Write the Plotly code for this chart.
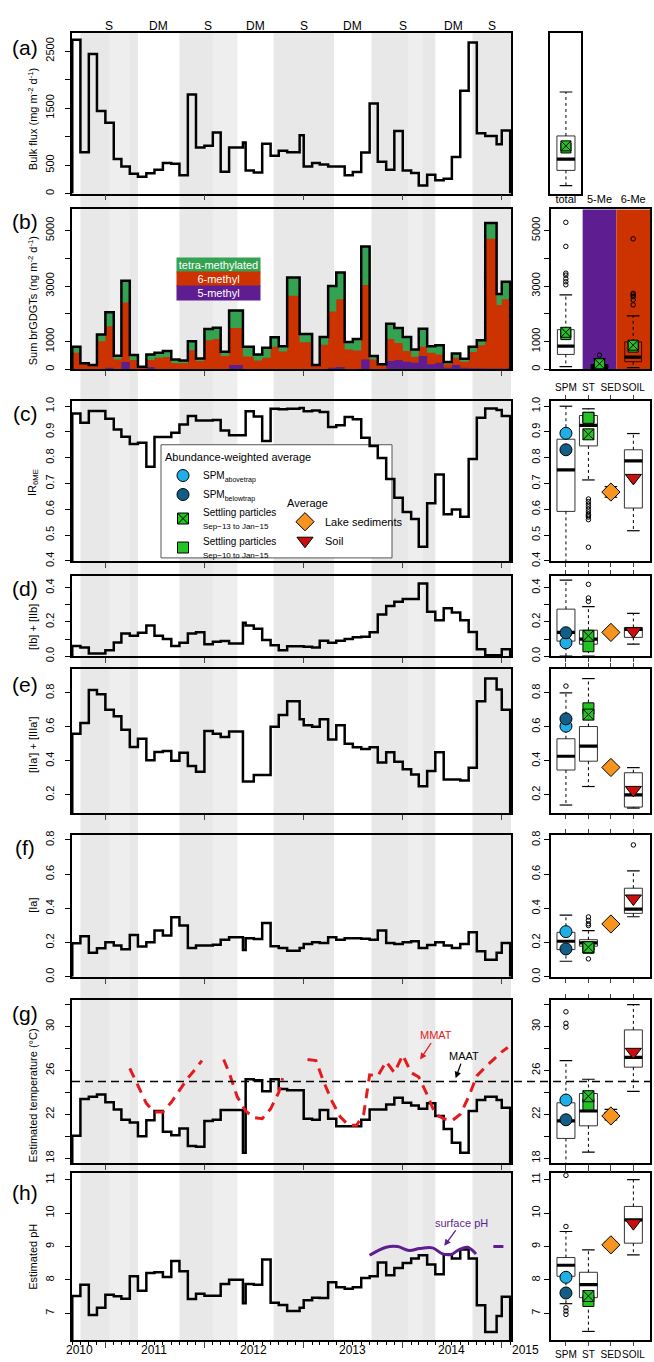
import datetime as _dt
import plotly.graph_objects as go

W, H = 654, 1362
FONT = "Liberation Sans, Arial, Helvetica, sans-serif"

# ---------------- DATA ----------------
# sediment-trap sampling interval boundaries (53 intervals)
sample_bounds = [
    "2010-09-01", "2010-10-01", "2010-11-01", "2010-12-01",
    "2011-01-01", "2011-02-01", "2011-03-01", "2011-04-01", "2011-05-01", "2011-06-01",
    "2011-07-01", "2011-08-01", "2011-09-01", "2011-10-01", "2011-11-01", "2011-12-01",
    "2012-01-01", "2012-02-01", "2012-03-01", "2012-04-01", "2012-05-22", "2012-06-01",
    "2012-07-01", "2012-08-01", "2012-09-01", "2012-10-01", "2012-11-01", "2012-12-17",
    "2013-01-01", "2013-02-01", "2013-03-01", "2013-04-01", "2013-05-01", "2013-06-01",
    "2013-07-01", "2013-08-01", "2013-09-01", "2013-10-01", "2013-11-01", "2013-12-01",
    "2014-01-01", "2014-02-01", "2014-03-01", "2014-04-01", "2014-05-01", "2014-06-01",
    "2014-07-01", "2014-08-01", "2014-09-01", "2014-10-01", "2014-11-01", "2014-12-13",
    "2015-01-01", "2015-02-01"]

bulk_flux = [2700, 727, 2448, 1448, 1244, 605, 477, 349, 297, 355,
             419, 535, 525, 320, 1738, 808, 837, 1070, 384, 808,
             895, 407, 372, 872, 663, 750, 727, 1023, 477, 535,
             512, 477, 477, 320, 378, 721, 1581, 558, 419, 1099,
             407, 360, 140, 331, 233, 262, 640, 1802, 2651, 1058,
             1012, 866, 1105]

flux_5me = [0, 0, 0, 0, 60, 0, 262, 0, 0, 83,
            0, 0, 0, 0, 0, 0, 0, 0, 0, 155,
            0, 0, 0, 0, 0, 0, 0, 0, 0, 0,
            0, 60, 80, 0, 0, 357, 0, 0, 298, 333,
            274, 238, 476, 179, 238, 60, 155, 60, 40, 40,
            30, 30, 30]
flux_6me = [595, 180, 130, 1012, 1488, 357, 2143, 333, 80, 250,
            417, 440, 214, 214, 690, 298, 1048, 1095, 476, 1333,
            464, 464, 321, 417, 810, 643, 2655, 976, 976, 130,
            881, 2023, 2444, 714, 679, 2679, 357, 150, 797, 619,
            381, 214, 334, 416, 298, 119, 262, 214, 579, 829,
            4672, 2291, 2494]
flux_tetra = [215, 34, 25, 238, 512, 131, 785, 179, 15, 203,
              178, 215, 143, 107, 322, 95, 404, 405, 155, 631,
              346, 346, 215, 357, 345, 190, 655, 298, 298, 25,
              286, 917, 964, 274, 416, 1394, 119, 29, 548, 536,
              512, 262, 654, 238, 333, 83, 154, 107, 191, 179,
              572, 393, 631]

ir6me = [0.972, 0.936, 0.981, 0.981, 0.951, 0.910, 0.882, 0.853, 0.858, 0.765,
         0.881, 0.881, 0.897, 0.929, 0.962, 0.945, 0.945, 0.947, 0.906, 0.887,
         0.887, 0.980, 0.960, 0.865, 0.990, 0.988, 0.990, 0.993, 0.980, 0.983,
         0.978, 0.919, 0.926, 0.958, 0.949, 0.878, 0.846, 0.799, 0.718, 0.645,
         0.590, 0.562, 0.455, 0.624, 0.735, 0.581, 0.599, 0.571, 0.795, 0.955,
         0.991, 0.985, 0.962]

ib_iib = [0.060, 0.050, 0.016, 0.016, 0.035, 0.080, 0.133, 0.120, 0.137, 0.180,
          0.120, 0.100, 0.060, 0.078, 0.133, 0.140, 0.070, 0.084, 0.088, 0.074,
          0.195, 0.180, 0.160, 0.094, 0.064, 0.035, 0.058, 0.058, 0.055, 0.050,
          0.090, 0.078, 0.090, 0.100, 0.110, 0.113, 0.140, 0.244, 0.293, 0.318,
          0.334, 0.334, 0.425, 0.260, 0.210, 0.280, 0.256, 0.210, 0.142, 0.040,
          0.006, 0.006, 0.040]

iia_iiia = [0.559, 0.623, 0.817, 0.792, 0.700, 0.662, 0.583, 0.482, 0.530, 0.404,
            0.452, 0.458, 0.400, 0.447, 0.369, 0.336, 0.575, 0.559, 0.540, 0.573,
            0.278, 0.278, 0.316, 0.316, 0.600, 0.670, 0.750, 0.645, 0.610, 0.600,
            0.645, 0.525, 0.610, 0.500, 0.480, 0.470, 0.480, 0.390, 0.450, 0.395,
            0.350, 0.320, 0.250, 0.340, 0.450, 0.290, 0.290, 0.285, 0.360, 0.750,
            0.885, 0.820, 0.700]

ia = [0.196, 0.237, 0.140, 0.167, 0.202, 0.183, 0.161, 0.245, 0.177, 0.202,
      0.270, 0.241, 0.348, 0.300, 0.169, 0.183, 0.183, 0.188, 0.217, 0.231,
      0.157, 0.225, 0.221, 0.315, 0.179, 0.169, 0.153, 0.169, 0.192, 0.202,
      0.198, 0.231, 0.216, 0.225, 0.225, 0.222, 0.217, 0.270, 0.198, 0.192,
      0.202, 0.208, 0.169, 0.186, 0.202, 0.183, 0.169, 0.192, 0.260, 0.150,
      0.100, 0.140, 0.198]

temp_est = [20.05, 23.4, 23.6, 23.8, 23.1, 22.45, 21.5, 21.25, 20.0, 21.46,
            22.3, 20.4, 20.1, 20.7, 19.1, 19.05, 21.4, 21.5, 22.4, 22.4,
            18.5, 25.2, 25.1, 24.1, 25.2, 24.3, 24.2, 24.2, 21.6, 21.5,
            22.4, 21.6, 20.9, 20.9, 20.9, 21.5, 22.45, 22.45, 22.9, 23.5,
            23.05, 22.8, 22.5, 23.0, 21.85, 20.65, 19.4, 18.5, 22.3, 23.3,
            23.6, 23.3, 22.6]

ph_est = [7.52, 7.86, 6.95, 7.17, 7.56, 7.51, 7.44, 8.11, 7.68, 8.21,
          8.23, 8.09, 8.57, 8.26, 7.43, 7.59, 7.53, 7.53, 7.88, 8.01,
          7.30, 7.88, 7.86, 8.61, 7.32, 7.25, 7.07, 7.17, 7.39, 7.47,
          7.46, 7.93, 7.78, 7.74, 7.78, 8.06, 8.11, 8.52, 8.14, 8.36,
          8.51, 8.64, 8.74, 8.46, 8.17, 8.76, 8.64, 8.91, 8.64, 7.24,
          6.44, 6.92, 7.50]

# monthly mean air temperature (None = gap in record)
mmat_dates = ["2011-04-01", "2011-05-01", "2011-06-01", "2011-07-01", "2011-08-01",
              "2011-09-01", "2011-10-01", "2011-11-01", "2011-12-01", "2011-12-23", None,
              "2012-03-12", "2012-04-01", "2012-05-01", "2012-06-01", "2012-07-01",
              "2012-08-01", "2012-09-01", "2012-10-01", "2012-10-15", None,
              "2013-01-15", "2013-02-15", "2013-03-15", "2013-04-15", "2013-05-15",
              "2013-06-15", "2013-07-15", "2013-08-10", "2013-09-01", "2013-10-01",
              "2013-11-01", "2013-12-01", "2014-01-01", "2014-02-01", "2014-03-01",
              "2014-04-01", "2014-05-01", "2014-06-01", "2014-07-01", "2014-08-01",
              "2014-09-01", "2014-10-01", "2014-11-01", "2014-12-01", "2015-01-01",
              "2015-01-23"]
mmat_vals = [26.2, 24.6, 23.0, 22.2, 22.2, 23.1, 24.2, 25.3, 26.2, 26.9, None,
             27.0, 25.8, 23.6, 22.3, 21.7, 21.6, 22.5, 24.0, 25.3, None,
             27.0, 26.9, 25.0, 23.2, 21.8, 21.0, 21.0, 22.0, 25.6, 25.5,
             26.8, 25.8, 27.4, 25.8, 25.4, 23.8, 22.0, 21.6, 21.4, 22.0,
             23.6, 25.5, 26.3, 27.0, 27.7, 28.1]
maat = 25.0

surf_ph_dates = ["2013-09-01", "2013-11-01", "2013-12-13", "2014-01-25", "2014-03-04",
                 "2014-04-21", "2014-05-28", "2014-06-28", "2014-07-28", "2014-08-28",
                 "2014-09-28", None, "2014-12-01", "2015-01-07"]
surf_ph_vals = [8.74, 8.98, 9.0, 8.88, 8.94, 8.96, 8.78, 8.76, 8.91, 8.98, 8.78,
                None, 9.0, 9.0]

# seasons
season_edges = ["2010-10-01", "2011-05-01", "2011-10-01", "2012-05-01", "2012-09-12",
                "2013-04-23", "2013-09-08", "2014-05-01", "2014-09-15", "2015-02-04"]
season_labels = ["S", "DM", "S", "DM", "S", "DM", "S", "DM", "S"]
lighter_bands = [("2011-01-15", "2011-04-01"), ("2012-02-01", "2012-05-01"),
                 ("2014-01-20", "2014-03-15")]

year_labels = ["2010", "2011", "2012", "2013", "2014", "2015"]
year_label_pos = ["2010-09-26", "2011-07-01", "2012-07-01", "2013-07-01", "2014-07-01", "2015-02-01"]
year_ticks = ["2011-01-01", "2012-01-01", "2013-01-01", "2014-01-01", "2015-01-01"]

# ---- right-hand panels: box statistics [low whisker, q1, median, q3, high whisker]
flux_box = {"total": [140, 407, 605, 1011, 1782]}
flux_mk = {"sep13": 837, "sep10": 800}

gdgt_box = {"total": [93, 536, 833, 1429, 2679], "5-Me": [0, 30, 80, 170, 380],
            "6-Me": [60, 274, 440, 988, 1929]}
gdgt_out = {"total": [3046, 3155, 3262, 3393, 3464, 4429, 5296], "5-Me": [510],
            "6-Me": [2321, 2500, 2619, 2679, 2738, 4702]}
gdgt_mk_sep13 = {"total": 1333, "5-Me": 200, "6-Me": 869}
gdgt_mk_sep10 = {"total": 1250, "5-Me": 150, "6-Me": 800}

right_cats = ["SPM", "ST", "SED", "SOIL"]
box_stats = {
    "c": {"SPM": [0.38, 0.592, 0.753, 0.872, 1.0], "ST": [0.714, 0.846, 0.926, 0.964, 0.99],
          "SED": [0.647, 0.657, 0.667, 0.677, 0.688], "SOIL": [0.517, 0.605, 0.788, 0.831, 0.894]},
    "d": {"SPM": [0.0, 0.088, 0.139, 0.275, 0.445], "ST": [0.0, 0.07, 0.10, 0.152, 0.29],
          "SED": [0.13, 0.135, 0.139, 0.143, 0.148], "SOIL": [0.07, 0.11, 0.156, 0.168, 0.25]},
    "e": {"SPM": [0.14, 0.346, 0.427, 0.53, 0.80], "ST": [0.249, 0.398, 0.487, 0.602, 0.884],
          "SED": [0.355, 0.358, 0.361, 0.364, 0.367], "SOIL": [0.122, 0.128, 0.20, 0.33, 0.36]},
    "f": {"SPM": [0.091, 0.159, 0.208, 0.26, 0.361], "ST": [0.163, 0.179, 0.198, 0.217, 0.27],
          "SED": [0.300, 0.305, 0.309, 0.313, 0.318], "SOIL": [0.351, 0.371, 0.396, 0.518, 0.619]},
    "g": {"SPM": [17.0, 19.8, 21.4, 23.05, 26.9], "ST": [18.55, 20.95, 22.3, 23.9, 25.2],
          "SED": [21.5, 21.6, 21.85, 22.2, 22.45], "SOIL": [24.1, 26.3, 27.2, 29.7, 32.0]},
    "h": {"SPM": [7.29, 8.11, 8.44, 8.67, 9.45], "ST": [6.46, 7.47, 7.86, 8.23, 8.9],
          "SED": [8.97, 9.0, 9.05, 9.1, 9.13], "SOIL": [8.75, 9.1, 9.8, 10.2, 11.0]},
}
box_out = {
    "c": {"ST": [0.64, 0.63, 0.62, 0.61, 0.60, 0.59, 0.58, 0.575, 0.57, 0.56, 0.453]},
    "d": {"ST": [0.42, 0.34, 0.32]},
    "e": {"SPM": [0.84]},
    "f": {"ST": [0.35, 0.33, 0.31, 0.30, 0.105], "SOIL": [0.771]},
    "g": {"SPM": [31.35, 30.3, 29.95]},
    "h": {"SPM": [11.13, 9.6, 7.17, 7.07, 6.97]},
}
avg_marks = {  # abundance-weighted / simple averages
    "c": {"above": 0.895, "below": 0.831, "sep13": 0.891, "sep10": 0.955, "sed": 0.667, "soil": 0.722},
    "d": {"above": 0.078, "below": 0.137, "sep13": 0.119, "sep10": 0.058, "sed": 0.139, "soil": 0.146},
    "e": {"above": 0.604, "below": 0.647, "sep13": 0.672, "sep10": 0.709, "sed": 0.361, "soil": 0.229},
    "f": {"above": 0.264, "below": 0.163, "sep13": 0.173, "sep10": 0.170, "sed": 0.309, "soil": 0.458},
    "g": {"above": 23.3, "below": 21.5, "sep13": 23.65, "sep10": 22.9, "sed": 21.85, "soil": 27.7},
    "h": {"above": 8.08, "below": 7.61, "sep13": 7.52, "sep10": 7.37, "sed": 9.05, "soil": 9.7},
}

# ---------------- STYLE / LAYOUT ----------------
GRAY = "#e8e8e8"
GRAY_LIGHT = "#eeeeee"
C_GREEN, C_RED, C_PURPLE = "#33a352", "#cc3300", "#5e1e91"
C_ABOVE, C_BELOW, C_ST = "#1eaee8", "#125e86", "#22c322"
C_SED, C_SOIL, C_MMAT = "#f7941d", "#cc0e0e", "#e41a1c"

rows = [("a", 29, 191, [0, 2820]), ("b", 207, 368, [0, 5760]), ("c", 400, 561, [0.4, 1.02]),
        ("d", 576, 657, [0, 0.47]), ("e", 670, 815, [0.093, 0.94]), ("f", 837, 980, [0, 0.83]),
        ("g", 1003, 1168, [17.52, 32.46]), ("h", 1178, 1346, [6.2, 11.19])]
# labelled ticks, then unlabelled ticks
ytick_spec = {
    "a": ([0, 500, 1500, 2500], [1000, 2000]),
    "b": ([0, 1000, 3000, 5000], [2000, 4000]),
    "c": ([0.4, 0.5, 0.6, 0.7, 0.8, 0.9, 1.0], []),
    "d": ([0.0, 0.2, 0.4], [0.1, 0.3]),
    "e": ([0.2, 0.4, 0.6, 0.8], []),
    "f": ([0.0, 0.2, 0.4, 0.6, 0.8], []),
    "g": ([18, 22, 26, 30], [20, 24, 28, 32]),
    "h": ([7, 8, 9, 10, 11], []),
}
ytick_fmt = {"a": "d", "b": "d", "c": ".1f", "d": ".1f", "e": ".1f", "f": ".1f", "g": "d", "h": "d"}
ytitles = {
    "a": "Bulk flux (mg m<sup>-2</sup> d<sup>-1</sup>)",
    "b": "Sum brGDGTs (ng m<sup>-2</sup> d<sup>-1</sup>)",
    "c": "IR<sub>6ME</sub>",
    "d": "[Ib] + [IIb]",
    "e": "[IIa'] + [IIIa']",
    "f": "[Ia]",
    "g": "Estimated temperature (°C)",
    "h": "Estimated pH",
}
ytitle_shift = {"a": 6, "b": 12, "c": 2, "d": 11, "e": 4, "f": 0, "g": 14, "h": 0}
X_RANGE = ["2010-08-31", "2015-02-04"]
LX = [72 / W, 511 / W]
RX = [551 / W, 650 / W]
RX_A = [550 / W, 581 / W]


def sfx(n):
    return "" if n == 1 else str(n)


fig = go.Figure()
layout = dict(width=W, height=H, margin=dict(l=0, r=0, t=0, b=0),
              paper_bgcolor="white", plot_bgcolor="white",
              font=dict(family=FONT, size=11, color="black"), showlegend=True)
axis_line = dict(showline=True, linecolor="black", linewidth=1.5, showgrid=False, zeroline=False)


def yaxis_ticks(key, yr, label_pad):
    tv, tminor = ytick_spec[key]
    # invisible long major ticks push the labels out; minor ticks draw the visible ticks
    return dict(range=yr, tickvals=tv, tickformat=ytick_fmt[key], ticks="outside",
                ticklen=label_pad, tickcolor="rgba(0,0,0,0)", tickangle=-90,
                tickfont=dict(size=11), mirror=True,
                minor=dict(tickvals=sorted(tv + tminor), ticks="outside", ticklen=5,
                           tickcolor="black", tickwidth=1),
                **axis_line)


row_axes = {}
for i, (key, top, bot, yr) in enumerate(rows, start=1):
    li, ri = i, i + 8
    row_axes[key] = (li, ri)
    ydom = [1 - bot / H, 1 - top / H]
    xl = dict(type="date", domain=LX, range=X_RANGE, anchor="y" + sfx(li), tickvals=year_ticks,
              ticks="outside", ticklen=5, showticklabels=False, mirror=True, **axis_line)
    if key == "h":
        xl["ticklen"] = 6
        xl["minor"] = dict(ticks="outside", ticklen=3, dtick="M1", tick0="2010-09-01",
                           tickcolor="black")
    layout["xaxis" + sfx(li)] = xl
    layout["yaxis" + sfx(li)] = dict(domain=ydom, anchor="x" + sfx(li), **yaxis_ticks(key, yr, 12))
    # right panels
    if key == "a":
        xr = dict(domain=RX_A, range=[0.47, 1.5], anchor="y" + sfx(ri), ticks="",
                  showticklabels=False, mirror=True, **axis_line)
        yr_ax = dict(domain=ydom, anchor="x" + sfx(ri), range=yr, ticks="", showticklabels=False,
                     mirror=True, **axis_line)
    elif key == "b":
        xr = dict(domain=RX, range=[0.56, 3.5], anchor="y" + sfx(ri), tickvals=[1, 2, 3],
                  ticktext=list(gdgt_box.keys()), side="top", ticks="", mirror=True,
                  tickangle=0, tickfont=dict(size=11), **axis_line)
        yr_ax = dict(domain=ydom, anchor="x" + sfx(ri), **yaxis_ticks(key, yr, 5))
    else:
        xr = dict(domain=RX, range=[0.335, 4.74], anchor="y" + sfx(ri), tickvals=[1, 2, 3, 4],
                  ticktext=right_cats, ticks="outside", ticklen=4, mirror="allticks",
                  showticklabels=key in ("c", "h"), side="top" if key == "c" else "bottom",
                  tickangle=0, tickfont=dict(size=10), **axis_line)
        yr_ax = dict(domain=ydom, anchor="x" + sfx(ri), **yaxis_ticks(key, yr, 5))
    layout["xaxis" + sfx(ri)] = xr
    layout["yaxis" + sfx(ri)] = yr_ax


def step_xy(vals, base):
    xs = [sample_bounds[0]] + sample_bounds + [sample_bounds[-1]]
    ys = [base] + list(vals) + [vals[-1], base]
    return xs, ys


def axref(n):
    return "x" + sfx(n), "y" + sfx(n)


# ---------- left panels ----------
series = {"a": bulk_flux, "c": ir6me, "d": ib_iib, "e": iia_iiia, "f": ia, "g": temp_est, "h": ph_est}
yr_of = {k: r for k, _, _, r in rows}

# stacked brGDGT fluxes
cum_5 = list(flux_5me)
cum_56 = [a + b for a, b in zip(flux_5me, flux_6me)]
cum_all = [a + b for a, b in zip(cum_56, flux_tetra)]
xb, yb = axref(row_axes["b"][0])
for vals, col in [(cum_all, C_GREEN), (cum_56, C_RED), (cum_5, C_PURPLE)]:
    xs, ys = step_xy(vals, 0)
    fig.add_trace(go.Scatter(x=xs, y=ys, mode="lines", line=dict(width=0, shape="hv"),
                             fill="tozeroy", fillcolor=col, xaxis=xb, yaxis=yb,
                             showlegend=False, hoverinfo="skip"))
xs, ys = step_xy(cum_all, 0)
fig.add_trace(go.Scatter(x=xs, y=ys, mode="lines", line=dict(color="black", width=2.5, shape="hv"),
                         xaxis=xb, yaxis=yb, showlegend=False))

for key, vals in series.items():
    xa, ya = axref(row_axes[key][0])
    xs, ys = step_xy(vals, yr_of[key][0])
    fig.add_trace(go.Scatter(x=xs, y=ys, mode="lines",
                             line=dict(color="black", width=2.5, shape="hv"),
                             xaxis=xa, yaxis=ya, showlegend=False))

# MMAT and surface pH
xg, yg = axref(row_axes["g"][0])
fig.add_trace(go.Scatter(x=mmat_dates, y=mmat_vals, mode="lines", connectgaps=False,
                         line=dict(color=C_MMAT, width=3, dash="10px,7px"),
                         xaxis=xg, yaxis=yg, showlegend=False))
xh, yh = axref(row_axes["h"][0])
fig.add_trace(go.Scatter(x=surf_ph_dates, y=surf_ph_vals, mode="lines", connectgaps=False,
                         line=dict(color=C_PURPLE, width=3, shape="spline", smoothing=1.0),
                         xaxis=xh, yaxis=yh, showlegend=False))


# ---------- right panels ----------
def add_box(xa, ya, pos, st, width, fill="white", lcol="#333333"):
    lo, q1, med, q3, hi = st
    fig.add_trace(go.Box(x=[pos], q1=[q1], median=[med], q3=[q3], lowerfence=[q1],
                         upperfence=[q3], width=width, fillcolor=fill, whiskerwidth=0,
                         line=dict(color=lcol, width=1), boxpoints=False, xaxis=xa, yaxis=ya,
                         showlegend=False, hoverinfo="skip"))
    fig.add_trace(go.Box(x=[pos], q1=[med], median=[med], q3=[med], lowerfence=[med],
                         upperfence=[med], width=width, fillcolor="black", whiskerwidth=0,
                         line=dict(color="black", width=3.2), boxpoints=False, xaxis=xa,
                         yaxis=ya, showlegend=False, hoverinfo="skip"))
    fig.add_trace(go.Scatter(x=[pos, pos, None, pos, pos], y=[q3, hi, None, q1, lo], mode="lines",
                             line=dict(color="black", width=1, dash="3px,3px"), xaxis=xa, yaxis=ya,
                             showlegend=False, hoverinfo="skip"))
    fig.add_trace(go.Scatter(x=[pos, pos], y=[lo, hi], mode="markers",
                             marker=dict(symbol="line-ew-open", size=9, color="black",
                                         line=dict(color="black", width=1.2)),
                             xaxis=xa, yaxis=ya, showlegend=False, hoverinfo="skip"))


def add_out(xa, ya, pos, vals):
    fig.add_trace(go.Scatter(x=[pos] * len(vals), y=vals, mode="markers",
                             marker=dict(symbol="circle-open", size=4.5, color="black",
                                         line=dict(color="black", width=1)),
                             xaxis=xa, yaxis=ya, showlegend=False, hoverinfo="skip"))


def mk(xa, ya, pos, val, symbol, color, size, name=None, legend=None):
    fig.add_trace(go.Scatter(x=[pos], y=[val], mode="markers", name=name,
                             marker=dict(symbol=symbol, color=color, size=size,
                                         line=dict(color="black", width=1)),
                             xaxis=xa, yaxis=ya, showlegend=name is not None,
                             legend=legend if legend else "legend"))


# (a) right
xa, ya = axref(row_axes["a"][1])
add_box(xa, ya, 1, flux_box["total"], 0.6)
mk(xa, ya, 1, flux_mk["sep10"], "square", C_ST, 10)
mk(xa, ya, 1, flux_mk["sep13"], "square-x", C_ST, 10)

# (b) right
xa, ya = axref(row_axes["b"][1])
bg_cols = {"5-Me": C_PURPLE, "6-Me": C_RED}
for j, cat in enumerate(gdgt_box.keys(), start=1):
    if cat == "5-Me":
        add_box(xa, ya, j, gdgt_box[cat], 0.5, fill="black", lcol="black")
    elif cat == "6-Me":
        add_box(xa, ya, j, gdgt_box[cat], 0.5, fill="rgba(0,0,0,0)", lcol="#3a0c00")
    else:
        add_box(xa, ya, j, gdgt_box[cat], 0.5)
    add_out(xa, ya, j, gdgt_out[cat])
    mk(xa, ya, j, gdgt_mk_sep10[cat], "square", C_ST, 10)
    mk(xa, ya, j, gdgt_mk_sep13[cat], "square-x", C_ST, 10)

# (c)-(h) right
legend_names = {
    "above": "SPM<sub>abovetrap</sub>",
    "below": "SPM<sub>belowtrap</sub>",
    "sep13": "Settling particles<br><span style='font-size:8px'>Sep\u221213 to Jan\u221215</span>",
    "sep10": "Settling particles<br><span style='font-size:8px'>Sep\u221210 to Jan\u221215</span>",
    "sed": "Lake sediments",
    "soil": "Soil",
}
for key in ["c", "d", "e", "f", "g", "h"]:
    xa, ya = axref(row_axes[key][1])
    for j, cat in enumerate(right_cats, start=1):
        add_box(xa, ya, j, box_stats[key][cat], 0.8 if cat != "SED" else 0.55)
        if cat in box_out[key]:
            add_out(xa, ya, j, box_out[key][cat])
    m = avg_marks[key]
    lg = key == "c"
    mk(xa, ya, 1, m["above"], "circle", C_ABOVE, 12, legend_names["above"] if lg else None)
    mk(xa, ya, 1, m["below"], "circle", C_BELOW, 12, legend_names["below"] if lg else None)
    mk(xa, ya, 2, m["sep10"], "square", C_ST, 11, None)
    mk(xa, ya, 2, m["sep13"], "square-x", C_ST, 11, legend_names["sep13"] if lg else None)
    mk(xa, ya, 3, m["sed"], "diamond", C_SED, 14, legend_names["sed"] if lg else None, "legend2")
    mk(xa, ya, 4, m["soil"], "triangle-down", C_SOIL, 14, legend_names["soil"] if lg else None,
       "legend2")
    if lg:  # legend entry for the Sep-10 settling-particle average
        fig.add_trace(go.Scatter(x=[2], y=[m["sep10"]], mode="markers",
                                 name=legend_names["sep10"],
                                 marker=dict(symbol="square", color=C_ST, size=11,
                                             line=dict(color="black", width=1)),
                                 xaxis=xa, yaxis=ya, showlegend=True, legend="legend"))

# ---------- shapes ----------
shapes = []
ytop_all, ybot_all = 1 - 29 / H, 1 - 1346 / H
for k, lab in enumerate(season_labels):
    if lab == "S":
        shapes.append(dict(type="rect", xref="x", yref="paper", x0=season_edges[k],
                           x1=season_edges[k + 1], y0=ybot_all, y1=ytop_all,
                           fillcolor=GRAY, line=dict(width=0), layer="below"))
for a, b in lighter_bands:
    shapes.append(dict(type="rect", xref="x", yref="paper", x0=a, x1=b, y0=ybot_all,
                       y1=ytop_all, fillcolor=GRAY_LIGHT, line=dict(width=0), layer="below"))
xbr, ybr = axref(row_axes["b"][1])
for j, cat in enumerate(gdgt_box.keys(), start=1):
    if cat in bg_cols:
        shapes.append(dict(type="rect", xref=xbr, yref=ybr + " domain", x0=j - 0.5, x1=j + 0.5,
                           y0=0, y1=1, fillcolor=bg_cols[cat], line=dict(width=0), layer="below"))
# legend box in (c)
shapes.append(dict(type="rect", xref="paper", yref="paper", x0=161 / W, x1=392 / W,
                   y0=1 - 558 / H, y1=1 - 444 / H, fillcolor="white",
                   line=dict(color="#555555", width=1), layer="below"))
# MAAT line across (g)
shapes.append(dict(type="line", xref="paper", yref=yg, x0=72 / W, x1=650 / W, y0=maat, y1=maat,
                   line=dict(color="black", width=1.5, dash="8px,5px"), layer="above"))

# ---------- annotations ----------
ann = []
panel_y = {"a": 44, "b": 219, "c": 413, "d": 589, "e": 686, "f": 850, "g": 1017, "h": 1197}
for k, yy in panel_y.items():
    ann.append(dict(text=f"({k})", x=25 / W, y=1 - yy / H, xref="paper", yref="paper",
                    showarrow=False, font=dict(size=21), xanchor="center", yanchor="middle"))
# y-axis titles
for key, top, bot, _ in rows:
    ann.append(dict(text=ytitles[key], textangle=-90, x=33 / W,
                    y=1 - ((top + bot) / 2 + ytitle_shift[key]) / H, xref="paper", yref="paper",
                    showarrow=False, font=dict(size=11), xanchor="center", yanchor="middle"))
for k, lab in enumerate(season_labels):
    d0 = _dt.date.fromisoformat(season_edges[k])
    d1 = _dt.date.fromisoformat(season_edges[k + 1])
    mid = d0 + (d1 - d0) / 2
    ann.append(dict(text=lab, x=mid.isoformat(), y=1 - 22 / H, xref="x", yref="paper",
                    showarrow=False, font=dict(size=12), yanchor="middle"))
for lab, pos in zip(year_labels, year_label_pos):
    last = lab == year_labels[-1]
    ann.append(dict(text=lab, x=pos, y=1 - 1356 / H, xref=xh, yref="paper", showarrow=False,
                    font=dict(size=12), yanchor="middle",
                    xanchor="left" if last else "center"))
# (b) colour key
for txt, col, yy in [("tetra-methylated", C_GREEN, 263), ("6-methyl", C_RED, 277),
                     ("5-methyl", C_PURPLE, 291)]:
    ann.append(dict(text=txt, x=218.5 / W, y=1 - yy / H, xref="paper", yref="paper",
                    showarrow=False, font=dict(size=11, color="white"), bgcolor=col,
                    width=83, height=14, borderpad=0, xanchor="center", yanchor="middle"))
ann.append(dict(text="MMAT", x="2014-03-06", y=27.0, xref=xg, yref=yg, showarrow=True,
                arrowhead=2, arrowsize=1, arrowwidth=1.3, arrowcolor=C_MMAT, ax=16, ay=-24,
                font=dict(size=11, color=C_MMAT)))
ann.append(dict(text="MAAT", x="2014-07-15", y=25.3, xref=xg, yref=yg, showarrow=True,
                arrowhead=2, arrowsize=1, arrowwidth=1.3, arrowcolor="black", ax=8, ay=-22,
                font=dict(size=11, color="black")))
ann.append(dict(text="surface pH", x="2014-06-03", y=9.02, xref=xh, yref=yh, showarrow=True,
                arrowhead=2, arrowsize=1, arrowwidth=1.3, arrowcolor=C_PURPLE, ax=17, ay=-23,
                font=dict(size=11, color=C_PURPLE)))

layout["shapes"] = shapes
layout["annotations"] = ann
layout["legend"] = dict(x=163 / W, y=1 - 446 / H, xanchor="left", yanchor="top",
                        bgcolor="rgba(0,0,0,0)", font=dict(size=10),
                        title=dict(text="Abundance-weighted average", font=dict(size=11)),
                        tracegroupgap=0, itemsizing="trace")
layout["legend2"] = dict(x=285 / W, y=1 - 556 / H, xanchor="left", yanchor="bottom",
                         bgcolor="rgba(0,0,0,0)", font=dict(size=11),
                         title=dict(text="Average", font=dict(size=11)),
                         tracegroupgap=0, itemsizing="trace")
fig.update_layout(**layout)
fig.write_html("out.html", config={"displayModeBar": False},
               post_script="document.body.style.margin='0px';"
                           "document.body.style.overflow='hidden';")
